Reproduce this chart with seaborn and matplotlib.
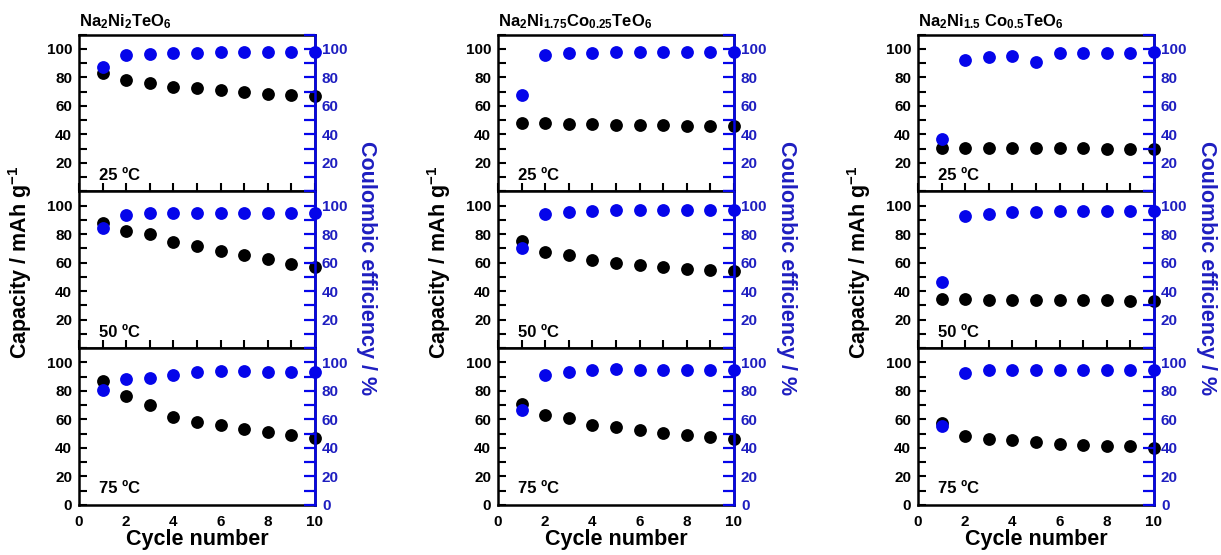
import matplotlib
matplotlib.use("Agg")
import matplotlib.pyplot as plt
import seaborn as sns
import pandas as pd
from matplotlib.ticker import MultipleLocator

sns.set_theme(style="ticks")
plt.rcParams['font.family'] = ['Liberation Sans', 'DejaVu Sans']
plt.rcParams['font.weight'] = 'bold'
plt.rcParams['text.color'] = 'black'
plt.rcParams['axes.labelcolor'] = 'black'
plt.rcParams['xtick.color'] = 'black'
plt.rcParams['ytick.color'] = 'black'
plt.rcParams['mathtext.fontset'] = 'custom'
plt.rcParams['mathtext.rm'] = 'Liberation Sans:bold'
plt.rcParams['mathtext.bf'] = 'Liberation Sans:bold'
plt.rcParams['mathtext.it'] = 'Liberation Sans:italic:bold'

# ---------------- data ----------------
cycles = [1, 2, 3, 4, 5, 6, 7, 8, 9, 10]
titles = ['Na$_2$Ni$_2$TeO$_6$',
          'Na$_2$Ni$_{1.75}$Co$_{0.25}$TeO$_6$',
          'Na$_2$Ni$_{1.5}$ Co$_{0.5}$TeO$_6$']
temps = ['25 ºC', '50 ºC', '75 ºC']
ytick_vals = [0, 20, 40, 60, 80, 100]
xtick_vals = [0, 2, 4, 6, 8, 10]

# capacity (mAh/g)  [composition][temperature]
cap_x0_25 = [83.0, 78.0, 76.3, 73.5, 72.2, 71.0, 69.6, 68.4, 67.5, 66.8]
cap_x0_50 = [87.8, 82.0, 80.0, 74.6, 71.6, 68.5, 65.3, 62.4, 59.2, 56.6]
cap_x0_75 = [87.0, 76.2, 70.1, 61.6, 58.1, 55.8, 53.6, 51.5, 49.2, 47.3]
cap_x1_25 = [48.2, 47.8, 47.3, 46.9, 46.6, 46.4, 46.3, 46.1, 46.0, 45.7]
cap_x1_50 = [75.3, 67.8, 65.5, 61.8, 59.7, 58.3, 56.9, 55.7, 54.6, 53.9]
cap_x1_75 = [71.1, 63.1, 61.0, 55.8, 54.4, 52.7, 50.8, 49.2, 47.4, 46.1]
cap_x2_25 = [30.2, 30.2, 30.2, 30.1, 30.1, 30.1, 30.1, 30.0, 30.0, 30.0]
cap_x2_50 = [34.6, 34.4, 34.1, 33.9, 33.9, 33.6, 33.6, 33.6, 33.4, 33.2]
cap_x2_75 = [57.2, 48.7, 46.6, 45.4, 44.5, 43.1, 42.4, 41.6, 41.2, 40.3]

# coulombic efficiency (%)
ce_x0_25 = [86.9, 95.5, 96.4, 96.9, 97.3, 97.4, 97.5, 97.6, 97.6, 97.8]
ce_x0_50 = [84.3, 93.6, 94.6, 94.8, 94.8, 94.8, 94.8, 94.8, 94.8, 94.8]
ce_x0_75 = [80.5, 88.5, 89.0, 91.3, 93.2, 94.1, 93.9, 93.4, 93.4, 93.4]
ce_x1_25 = [67.3, 95.5, 96.7, 96.9, 97.4, 97.6, 97.6, 97.6, 97.6, 97.9]
ce_x1_50 = [70.6, 94.1, 95.8, 96.5, 96.7, 96.7, 96.9, 97.2, 97.2, 97.2]
ce_x1_75 = [66.8, 91.5, 93.6, 94.6, 95.1, 94.8, 94.4, 94.4, 94.6, 94.6]
ce_x2_25 = [36.9, 91.9, 94.5, 95.2, 91.0, 96.7, 96.9, 97.1, 97.1, 97.4]
ce_x2_50 = [46.6, 92.5, 94.1, 95.3, 95.8, 96.0, 96.2, 96.2, 96.5, 96.5]
ce_x2_75 = [55.3, 92.9, 94.8, 94.6, 94.4, 94.4, 94.6, 94.6, 94.6, 94.6]

capacity = [[cap_x0_25, cap_x0_50, cap_x0_75],
            [cap_x1_25, cap_x1_50, cap_x1_75],
            [cap_x2_25, cap_x2_50, cap_x2_75]]
efficiency = [[ce_x0_25, ce_x0_50, ce_x0_75],
              [ce_x1_25, ce_x1_50, ce_x1_75],
              [ce_x2_25, ce_x2_50, ce_x2_75]]

# ---------------- figure ----------------
W, H = 1221, 555
fig = plt.figure(figsize=(W / 100, H / 100), dpi=100)

BLUE = '#0505EA'
BLUE_TXT = '#1E1EC0'
lefts_px = [79, 498, 918]
width_px = 236
top_px, bot_px = 34.5, 505
panel_h = (bot_px - top_px) / 3
TICK_FS = 11

for c in range(3):
    for r in range(3):
        ax = fig.add_axes([lefts_px[c] / W, 1 - (top_px + (r + 1) * panel_h) / H,
                           width_px / W, panel_h / H])
        df = pd.DataFrame({'cycle': cycles, 'cap': capacity[c][r],
                           'ce': efficiency[c][r]})
        sns.scatterplot(data=df, x='cycle', y='cap', ax=ax, color='black',
                        s=85, linewidth=0, clip_on=False, zorder=3)
        ax.set_xlim(0, 10)
        ax.set_ylim(0, 110)
        ax.set_xlabel('')
        ax.set_ylabel('')
        ax.set_xticks(xtick_vals)
        ax.xaxis.set_minor_locator(MultipleLocator(1))
        ax.set_yticks(ytick_vals)
        ax.yaxis.set_minor_locator(MultipleLocator(10))
        ylabs = [str(v) for v in ytick_vals]
        if r < 2:
            ylabs[0] = ''
        ax.set_yticklabels(ylabs, fontsize=TICK_FS, fontweight='bold')
        ax.tick_params(axis='y', which='both', direction='in', length=6,
                       width=1.5, colors='black', pad=5)
        if r < 2:
            ax.tick_params(axis='x', which='both', direction='in', length=6,
                           width=1.5, labelbottom=False)
        else:
            ax.tick_params(axis='x', which='both', length=0, pad=7,
                           labelsize=TICK_FS)
            for lbl in ax.get_xticklabels():
                lbl.set_fontweight('bold')
            ax.set_xlabel('Cycle number', fontsize=15.5, fontweight='bold',
                          labelpad=0)
        for sp in ax.spines.values():
            sp.set_linewidth(1.8)
            sp.set_color('black')
        ax.text(0.085, 0.055, temps[r], transform=ax.transAxes, fontsize=12,
                fontweight='bold', ha='left', va='bottom')

        ax2 = ax.twinx()
        sns.scatterplot(data=df, x='cycle', y='ce', ax=ax2, color=BLUE,
                        s=85, linewidth=0, clip_on=False, zorder=4)
        ax2.set_ylim(0, 110)
        ax2.set_ylabel('')
        ax2.set_yticks(ytick_vals)
        ax2.yaxis.set_minor_locator(MultipleLocator(10))
        ax2.set_yticklabels(ylabs, fontsize=TICK_FS, fontweight='bold',
                            color=BLUE_TXT)
        ax2.tick_params(axis='y', which='both', direction='in', length=8,
                        width=1.6, colors=BLUE, labelcolor=BLUE_TXT, pad=5)
        ax2.spines['right'].set_linewidth(1.8)
        ax2.spines['right'].set_color(BLUE)
        ax2.spines['left'].set_visible(False)
        ax2.spines['top'].set_visible(False)
        ax2.spines['bottom'].set_visible(False)
        if r == 0:
            ax.set_title(titles[c], loc='left', fontsize=12, fontweight='bold',
                         pad=6)

    # column labels
    fig.text((lefts_px[c] - 59) / W, 1 - 262 / H, 'Capacity / mAh g$^{-1}$',
             rotation=90, ha='center', va='center', fontsize=15.5,
             fontweight='bold', color='black')
    fig.text((lefts_px[c] + width_px + 52) / W, 1 - 268 / H,
             'Coulombic efficiency / %',
             rotation=-90, ha='center', va='center', fontsize=15.5,
             fontweight='bold', color=BLUE_TXT)

fig.savefig('out.png', dpi=100)
